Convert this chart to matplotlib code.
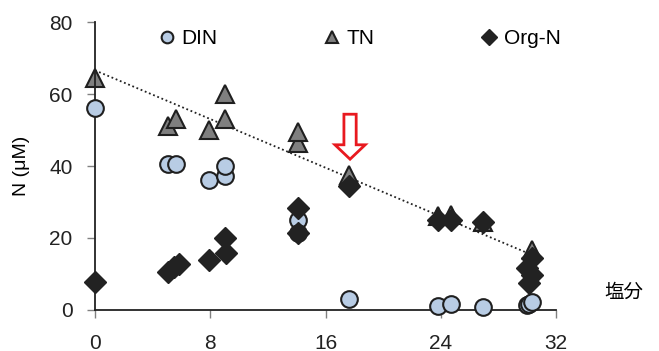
import matplotlib
matplotlib.use("Agg")
import matplotlib.pyplot as plt
from matplotlib.patches import FancyArrow

plt.rcParams['font.family'] = ['Liberation Sans', 'Noto Sans CJK JP', 'DejaVu Sans']

# salinity vs nitrogen (uM)
din_x = [0, 5.1, 5.6, 7.9, 9.0, 9.0, 14.1, 14.1, 17.6, 23.8, 24.7, 26.9, 30.0, 30.1, 30.3]
din_y = [56, 40.5, 40.5, 36, 37.2, 40, 25, 21.4, 3, 1.1, 1.7, 0.8, 1.3, 1.7, 2.3]

tn_x = [0, 5.1, 5.6, 7.9, 9.0, 9.0, 14.1, 14.1, 17.6, 23.8, 24.7, 26.9, 30.3]
tn_y = [64.4, 51, 53, 50, 60, 53, 46.4, 49.4, 37.5, 26, 26.5, 24.5, 16.7]

org_x = [0, 5.1, 5.5, 5.8, 7.9, 9.0, 9.1, 14.1, 14.1, 17.6, 23.8, 24.7, 26.9, 30.3, 30.0, 30.3, 30.1]
org_y = [7.8, 10.5, 12.0, 12.8, 13.9, 20, 15.8, 28.3, 21.3, 34.5, 25, 25, 24.4, 14.4, 11.7, 9.7, 7.5]

trend_x = [0, 30.2]
trend_y = [66.6, 15.5]

x_ticks = [0, 8, 16, 24, 32]
y_ticks = [0, 20, 40, 60, 80]

fig = plt.figure(figsize=(6.59, 3.51), dpi=100)
ax = fig.add_axes([0.144, 0.117, 0.700, 0.820])

edge = '#1f1f1f'
ax.plot(trend_x, trend_y, linestyle=(0, (1, 1.5)), color='#222222', lw=1.3, zorder=1)
ax.plot(din_x, din_y, 'o', ms=12, mfc='#b8cce4', mec=edge, mew=1.5, label='DIN', clip_on=False, zorder=3)
ax.plot(tn_x, tn_y, '^', ms=13, mfc='#7f7f7f', mec=edge, mew=1.5, label='TN', clip_on=False, zorder=2)
ax.plot(org_x, org_y, 'D', ms=11, mfc='#222222', mec='#222222', mew=1, label='Org-N', clip_on=False, zorder=4)

arrow = FancyArrow(17.7, 54.4, 0, -12.5, width=0.85, head_width=2.1, head_length=4.0,
                   length_includes_head=True, fc='white', ec='#e8191f', lw=2, zorder=5)
ax.add_patch(arrow)

ax.set_xlim(0, 32)
ax.set_ylim(0, 80)
ax.set_xticks(x_ticks)
ax.set_yticks(y_ticks)
ax.tick_params(labelsize=15, length=6, width=1, color='#808080', labelcolor='#222222')
ax.tick_params(axis='y', pad=10)
ax.tick_params(axis='x', pad=11)
for s in ['top', 'right']:
    ax.spines[s].set_visible(False)
for s in ['left', 'bottom']:
    ax.spines[s].set_linewidth(1.3)
    ax.spines[s].set_color('#222222')

ax.set_ylabel('N (μM)', fontsize=14, labelpad=14)
fig.text(0.917, 0.165, '塩分', fontsize=14, ha='left', va='center')

ax.legend(loc='upper left', bbox_to_anchor=(0.097, 1.04), ncol=3, frameon=False,
          fontsize=15, markerscale=0.7, handlelength=0.8, handletextpad=0.3,
          columnspacing=5.1)

fig.savefig('out.png', dpi=100)
